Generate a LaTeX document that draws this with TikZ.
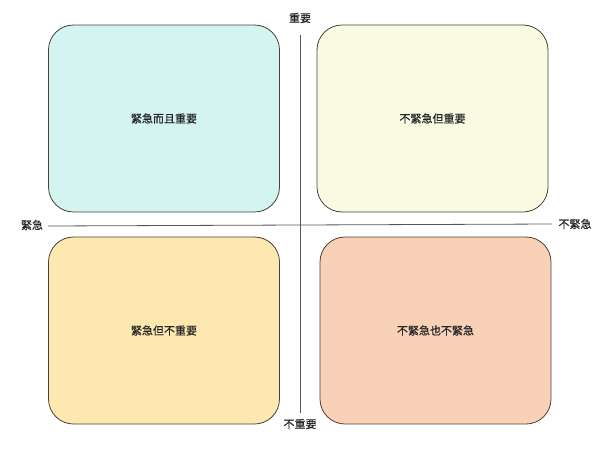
\documentclass[tikz,border=0pt]{standalone}
\usepackage{fontspec}
\newfontfamily\cjk[FakeBold=0.8]{Noto Sans CJK SC}
\definecolor{cTL}{HTML}{D3F4F1}
\definecolor{cTR}{HTML}{F8FBE1}
\definecolor{cBL}{HTML}{FDE8B0}
\definecolor{cBR}{HTML}{F9D1B7}
\definecolor{edge}{HTML}{4A4036}
\definecolor{axis}{HTML}{555555}
\begin{document}
\begin{tikzpicture}[x=1pt,y=-1pt,
  quad/.style={draw=edge,line width=0.8pt,rounded corners=25pt,minimum width=231pt,minimum height=187pt,font=\cjk\fontsize{11}{13}\selectfont,text=black!85,inner sep=0pt},
  axlabel/.style={font=\cjk\fontsize{11}{13}\selectfont,text=black!85,inner sep=0pt},
  axline/.style={draw=axis,line width=0.8pt}]
\useasboundingbox (0,0) rectangle (600,450);
\node[quad,fill=cTL] (tl) at (164,118.5) {緊急而且重要};
\node[quad,fill=cTR] (tr) at (432.5,118.5) {不緊急但重要};
\node[quad,fill=cBL] (bl) at (164,330.5) {緊急但不重要};
\node[quad,fill=cBR] (br) at (435.5,330.5) {不緊急也不緊急};
\node[axlabel] (top) at (300,18) {重要};
\node[axlabel] (bot) at (300,424) {不重要};
\node[axlabel] (left) at (32,225) {緊急};
\node[axlabel] (right) at (575,224) {不緊急};
\coordinate (vt) at (300,35);
\coordinate (vb) at (300,413);
\coordinate (hl) at (48,226);
\coordinate (hr) at (552,224);
\draw[axline] (vt) -- (vb);
\draw[axline] (hl) -- (hr);
\end{tikzpicture}
\end{document}
